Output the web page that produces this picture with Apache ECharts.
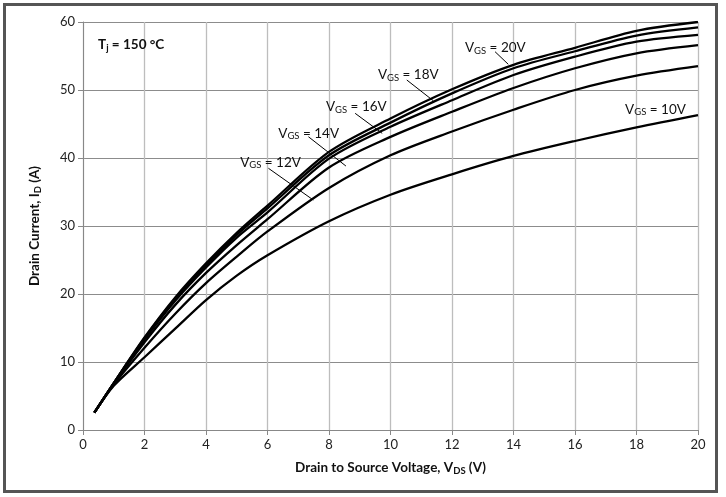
<!DOCTYPE html>
<html><head><meta charset="utf-8">
<script src="https://cdn.jsdelivr.net/npm/echarts@6/dist/echarts.min.js"></script>
<style>html,body{margin:0;padding:0;background:#fff}#c{width:726px;height:497px}</style>
</head><body><div id="c"></div>
<script>
const vds  = [0.37, 1, 2, 3, 4, 5, 6, 8, 10, 12, 14, 16, 18, 20];
const id20 = [2.55, 6.9, 13.6, 19.5, 24.5, 29.0, 33.0, 40.9, 45.8, 50.1, 53.7, 56.2, 58.7, 60.0];
const id18 = [2.55, 6.9, 13.5, 19.3, 24.2, 28.7, 32.6, 40.4, 45.2, 49.5, 53.2, 55.7, 58.0, 59.2];
const id16 = [2.55, 6.9, 13.3, 19.0, 23.9, 28.3, 32.0, 39.9, 44.6, 48.5, 52.2, 54.9, 57.1, 58.1];
const id14 = [2.55, 6.8, 12.9, 18.4, 23.1, 27.2, 31.0, 38.6, 43.1, 46.8, 50.3, 53.2, 55.4, 56.6];
const id12 = [2.55, 6.7, 12.1, 17.1, 21.6, 25.5, 29.2, 35.6, 40.4, 43.9, 47.1, 50.0, 52.1, 53.5];
const id10 = [2.55, 6.5, 10.7, 14.9, 19.1, 22.7, 25.7, 30.7, 34.6, 37.6, 40.3, 42.5, 44.5, 46.3];
const seriesNames = ['VGS=20V','VGS=18V','VGS=16V','VGS=14V','VGS=12V','VGS=10V'];
const seriesData = [id20, id18, id16, id14, id12, id10];
const xTicks = {min: 0, max: 20, interval: 2};
const yTicks = {min: 0, max: 60, interval: 10};
// annotation labels: gate voltage text and label anchor (x, y)
const labelVgs = ['20V','18V','16V','14V','12V','10V'];
const labelPos = [[12.42,56.18],[9.59,52.21],[7.90,47.54],[6.35,43.63],[5.11,39.37],[17.63,47.16]];
// arrows: [from x, from y, to x, to y]
const arrows = [[13.40,55.63,13.83,53.78],[10.53,51.47,11.39,48.43],[8.85,46.57,9.73,43.63],[7.33,43.13,8.55,38.82],[6.03,38.49,7.49,33.82]];
const tjPos = [0.49, 56.6];

const FONT = 'Lato';
const chart = echarts.init(document.getElementById('c'));
const subRich = {
  n: {fontSize: 13.5, fontFamily: FONT, color: '#111'},
  s: {fontSize: 9.5, fontFamily: FONT, color: '#111', padding: [6,0,0,0]}
};
const series = seriesData.map((d, i) => ({
  name: seriesNames[i], type: 'line', smooth: 0.3, symbol: 'none',
  lineStyle: {color: '#000', width: 2.3},
  data: vds.map((x, k) => [x, d[k]]),
  z: 3
}));
series.push({
  type: 'line', data: [], silent: true,
  markPoint: {
    symbol: 'circle', symbolSize: 0, silent: true,
    data: labelVgs.map((t, i) => ({
      coord: labelPos[i],
      label: {show: true, position: 'right', distance: 0, formatter: '{n|V}{s|GS}{n| = ' + t + '}', rich: subRich}
    })).concat([{
      coord: tjPos,
      label: {show: true, position: 'right', distance: 0, formatter: '{n|T}{s|j}{n| = 150 °C}',
        rich: {n: {fontSize: 13.5, fontWeight: 'bold', fontFamily: FONT, color: '#111'},
               s: {fontSize: 9.5, fontWeight: 'bold', fontFamily: FONT, color: '#111', padding: [6,0,0,0]}}}
    }])
  },
  markLine: {
    silent: true, symbol: ['none', 'arrow'], symbolSize: [0, 6],
    lineStyle: {color: '#000', width: 1, type: 'solid'},
    label: {show: false},
    data: arrows.map(a => [{coord: [a[0], a[1]]}, {coord: [a[2], a[3]]}])
  }
});
chart.setOption({
  animation: false,
  backgroundColor: '#fff',
  grid: {left: 83, right: 28, top: 22, bottom: 67},
  xAxis: {
    type: 'value', min: xTicks.min, max: xTicks.max, interval: xTicks.interval,
    axisLine: {lineStyle: {color: '#888'}},
    axisTick: {show: true, length: 5, lineStyle: {color: '#888'}},
    axisLabel: {color: '#222', fontSize: 13, fontFamily: FONT, margin: 8},
    splitLine: {lineStyle: {color: '#bdbdbd', width: 1.3}},
    name: '{b|Drain to Source Voltage, V}{s|DS}{b| (V)}',
    nameLocation: 'middle', nameGap: 30,
    nameTextStyle: {rich: {b: {fontSize: 13.5, fontWeight: 'bold', fontFamily: FONT, color: '#111'},
                           s: {fontSize: 9.5, fontWeight: 'bold', fontFamily: FONT, color: '#111', padding: [6,0,0,0]}}}
  },
  yAxis: {
    type: 'value', min: yTicks.min, max: yTicks.max, interval: yTicks.interval,
    axisLine: {show: true, lineStyle: {color: '#888'}},
    axisTick: {show: true, length: 5, lineStyle: {color: '#888'}},
    axisLabel: {color: '#222', fontSize: 13, fontFamily: FONT, margin: 8},
    splitLine: {lineStyle: {color: '#8c8c8c', width: 1}},
    name: '{b|Drain Current, I}{s|D}{b| (A)}',
    nameLocation: 'middle', nameGap: 40, nameRotate: 90,
    nameTextStyle: {rich: {b: {fontSize: 13.5, fontWeight: 'bold', fontFamily: FONT, color: '#111'},
                           s: {fontSize: 9.5, fontWeight: 'bold', fontFamily: FONT, color: '#111', padding: [6,0,0,0]}}}
  },
  graphic: [{type: 'rect', shape: {x: 4.5, y: 4.5, width: 712, height: 487}, style: {fill: 'none', stroke: '#555', lineWidth: 3}, z: 100}],
  series: series
});
</script></body></html>
